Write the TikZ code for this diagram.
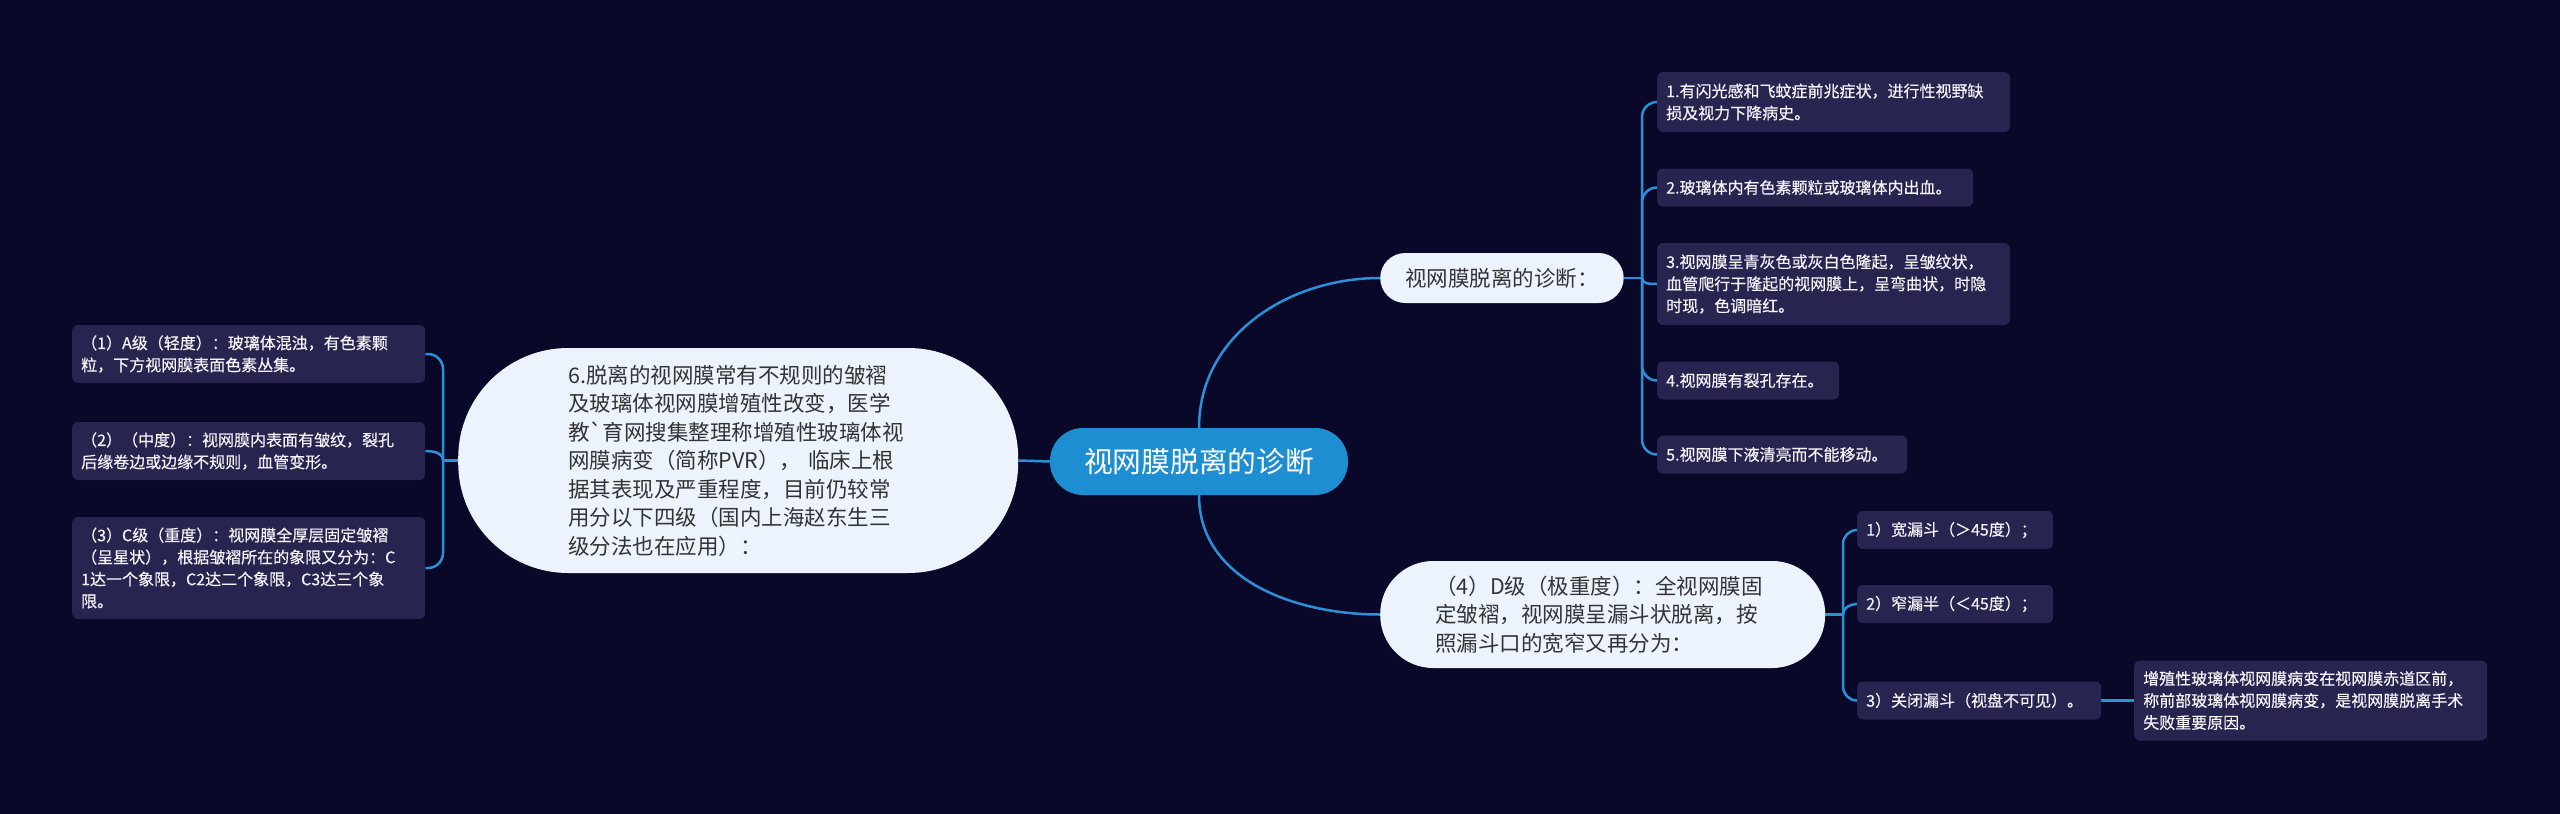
\documentclass[tikz,border=0pt]{standalone}
\usepackage{fontspec}
\setmainfont{Noto Sans CJK SC}[Ligatures=TeXOff]
\newfontfamily\leaffont{Noto Sans CJK SC}[Ligatures=TeXOff,FakeBold=0.4]
\definecolor{bgc}{HTML}{0A0828}
\definecolor{rootc}{HTML}{1C8ED1}
\definecolor{pillc}{HTML}{EDF3FD}
\definecolor{pilltext}{HTML}{333333}
\definecolor{leafc}{HTML}{272450}
\definecolor{leaftext}{HTML}{F4F4F8}
\definecolor{linec}{HTML}{2A90D8}
\pgfdeclarelayer{bg}
\pgfdeclarelayer{lines}
\pgfsetlayers{bg,lines,main}
\begin{document}
\begin{tikzpicture}[x=1pt,y=-1pt,
  conn/.style={draw=linec, line width=2.5pt},
  leaf/.style={fill=leafc, rounded corners=6pt, text=leaftext,
    font=\leaffont\fontsize{16}{22}\selectfont, inner xsep=9pt, inner ysep=0pt,
    align=left, anchor=west},
  wide/.style={text width=335pt},
  tw/.style={text width=#1},
  pill/.style={fill=pillc, text=pilltext, align=left, anchor=west, inner sep=0pt},
  bigfont/.style={font=\fontsize{21.5}{28.5}\selectfont}
]
\begin{pgfonlayer}{bg}
\fill[bgc] (0,0) rectangle (2560,814);
\end{pgfonlayer}

% root
\node[fill=rootc, rounded corners=33pt, text=white,
  font=\fontsize{28.75}{34}\selectfont, minimum width=298pt,
  minimum height=67pt, inner sep=0pt] (root) at (1199,461.5) {视网膜脱离的诊断};

% left main node
\node[pill, bigfont, rounded corners=110pt, minimum width=560pt,
  minimum height=225pt, text width=340pt] (L) at (458,460.5)
  {6.脱离的视网膜常有不规则的皱褶\\及玻璃体视网膜增殖性改变，医学\\教`育网搜集整理称增殖性玻璃体视\\网膜病变（简称PVR）， 临床上根\\据其表现及严重程度，目前仍较常\\用分以下四级（国内上海赵东生三\\级分法也在应用）：};

% upper right branch
\node[pill, bigfont, rounded corners=25pt, minimum height=50pt,
  inner xsep=25pt] (B1) at (1380,278) {视网膜脱离的诊断：};

% lower right branch
\node[pill, bigfont, rounded corners=53pt, minimum width=445pt,
  minimum height=107pt, text width=335pt] (D) at (1380,614.5)
  {（4）D级（极重度）：全视网膜固\\定皱褶，视网膜呈漏斗状脱离，按\\照漏斗口的宽窄又再分为：};

% left leaves
\node[leaf, wide, minimum height=58pt] (l1) at (72,354)
  {（1）A级（轻度）：玻璃体混浊，有色素颗\\粒，下方视网膜表面色素丛集。};
\node[leaf, wide, minimum height=58pt] (l2) at (72,451)
  {（2）（中度）：视网膜内表面有皱纹，裂孔\\后缘卷边或边缘不规则，血管变形。};
\node[leaf, wide, minimum height=102pt] (l3) at (72,568)
  {（3）C级（重度）：视网膜全厚层固定皱褶\\（呈星状），根据皱褶所在的象限又分为：C\\1达一个象限，C2达二个象限，C3达三个象\\限。};

% right leaves
\node[leaf, wide, minimum height=60pt] (r1) at (1657,102)
  {1.有闪光感和飞蚊症前兆症状，进行性视野缺\\损及视力下降病史。};
\node[leaf, tw=298pt, minimum height=38pt] (r2) at (1657,187.5)
  {2.玻璃体内有色素颗粒或玻璃体内出血。};
\node[leaf, wide, minimum height=82pt] (r3) at (1657,284)
  {3.视网膜呈青灰色或灰白色隆起，呈皱纹状，\\血管爬行于隆起的视网膜上，呈弯曲状，时隐\\时现，色调暗红。};
\node[leaf, tw=164pt, minimum height=38pt] (r4) at (1657,380.5)
  {4.视网膜有裂孔存在。};
\node[leaf, tw=232pt, minimum height=38pt] (r5) at (1657,454.5)
  {5.视网膜下液清亮而不能移动。};

% D leaves
\node[leaf, tw=178pt, minimum height=38pt] (d1) at (1857,530)
  {1）宽漏斗（＞45度）；};
\node[leaf, tw=178pt, minimum height=38pt] (d2) at (1857,604)
  {2）窄漏半（＜45度）；};
\node[leaf, tw=226pt, minimum height=38pt] (d3) at (1857,700.5)
  {3）关闭漏斗（视盘不可见）。};
\node[leaf, wide, minimum height=80pt] (f1) at (2134,700.5)
  {增殖性玻璃体视网膜病变在视网膜赤道区前，\\称前部玻璃体视网膜病变，是视网膜脱离手术\\失败重要原因。};

% junction points
\coordinate (lj) at (443,460.5);
\coordinate (rj) at (1642,278);
\coordinate (dj) at (1843,614.5);

\begin{pgfonlayer}{lines}
\draw[conn] (root.west) -- (L.east);
\draw[conn] (root.north) to[out=90,in=180] (B1.west);
\draw[conn] (root.south) to[out=-90,in=180] (D.west);

\draw[conn] (L.west) -- (lj);
\draw[conn, rounded corners=15pt] (lj) |- (l1.east);
\draw[conn] (lj) to[out=90,in=0] (l2.east);
\draw[conn, rounded corners=15pt] (lj) |- (l3.east);

\draw[conn] (B1.east) -- (rj);
\draw[conn, rounded corners=15pt] (rj) |- (r1.west);
\draw[conn, rounded corners=15pt] (rj) |- (r2.west);
\draw[conn] (rj) to[out=-90,in=180] (r3.west);
\draw[conn, rounded corners=15pt] (rj) |- (r4.west);
\draw[conn, rounded corners=15pt] (rj) |- (r5.west);

\draw[conn] (D.east) -- (dj);
\draw[conn, rounded corners=14pt] (dj) |- (d1.west);
\draw[conn] (dj) to[out=90,in=180] (d2.west);
\draw[conn, rounded corners=14pt] (dj) |- (d3.west);
\draw[conn] (d3.east) -- (f1.west);
\end{pgfonlayer}
\end{tikzpicture}
\end{document}
